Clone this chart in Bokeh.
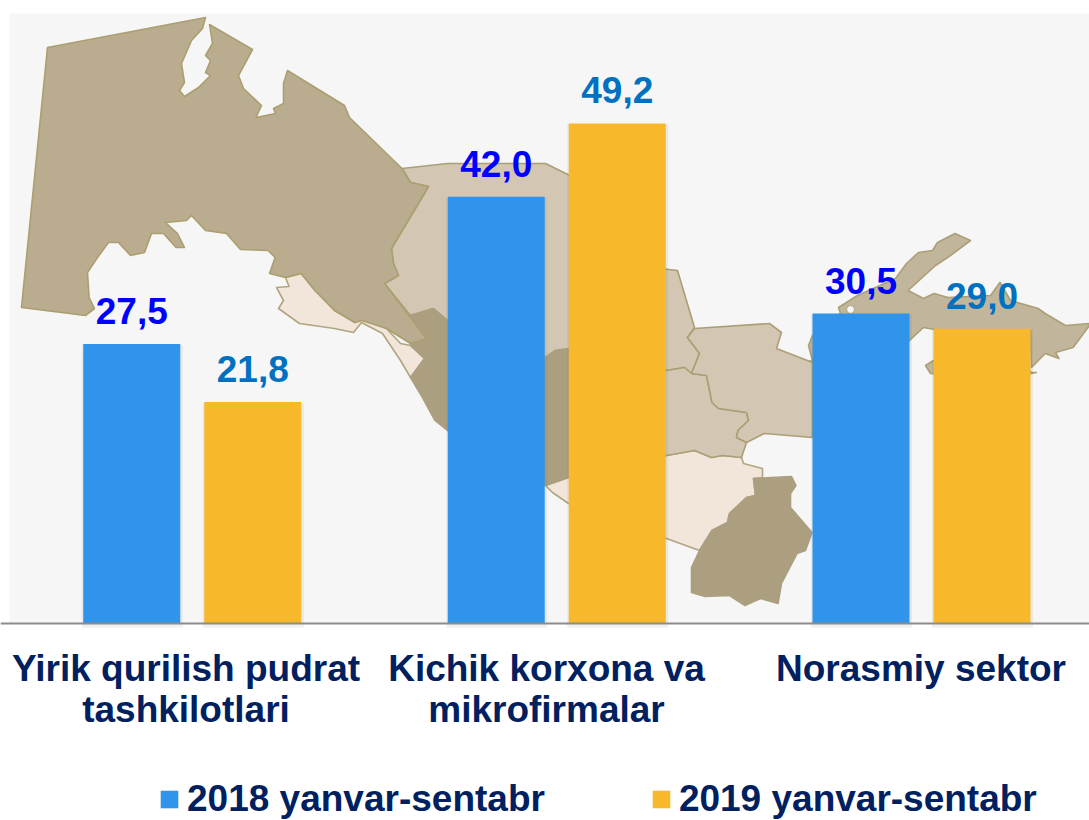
import numpy as np
from bokeh.plotting import figure
from bokeh.models import Range1d, LinearAxis, FixedTicker, Legend, LegendItem, ColumnDataSource
from bokeh.core.properties import value
from bokeh.embed import file_html
from bokeh.resources import INLINE

categories = ["Yirik qurilish pudrat\ntashkilotlari", "Kichik korxona va\nmikrofirmalar", "Norasmiy sektor"]
series_names = ["2018 yanvar-sentabr", "2019 yanvar-sentabr"]
values_2018 = [27.5, 42.0, 30.5]
values_2019 = [21.8, 49.2, 29.0]

# layout (page pixels)
group_centers = np.array([191.75, 556.25, 921.0])
label_centers = [185.5, 546.0, 920.5]
dodge = 60.5
bar_w = 97.0
PX_PER_UNIT = 10.163
BASE_PY = 623.0
FONT = value("Liberation Sans")

# background map (decoration, page pixels)
map_land = [
    [(47,47),(205,17),(202,28),(191,40),(181,63),(184,82),(179,90),(184,96),(198,87),(210,75),(205,72),(210,60),(205,55),(212,43),(209,24),
     (252,49),(238,75),(243,88),(261,105),(255.5,117),(275,113),(273,108),(283,103),(283,83),(287,70),(344,105),(349,117),(401.5,168),(410,182),(428,186),
     (391,248),(393,263),(398,275),(384,283),(426,338),(410,343),(386,328),(361.5,320),(354.5,322),(334,310),(314.5,290),(300.7,273),(285,277),(269,273),
     (274.6,257),(267.6,250),(240,249),(226,233),(205,230),(191,215),(186,220),(165,222),(177,233),(184,247),(175.5,247),(163,233),(151,233),(144,252),
     (130,255),(118,242),(108,242),(97,257),(87,272),(88.6,297),(94,308),(85,315),(21,307)],
]
map_pale = [
    [(285,277),(300.7,273),(314.5,290),(334,310),(354.5,322),(361.5,317),(386,328),(400,343),(410,345),(424,358),(410,377),(400,360),(382,333),(361,322),(353,332),(334,328),(299,323),(278,308),(283,300),(276,287),(288.5,286)],
    [(545,485),(568,477),(666,455),(694,450),(711,457),(722,455),(741,457),(743,463),(762,468),(762,477),(753,478),(755,495),(746,497),(729,513),(727,522),(711.5,530),(699,550),(666,538),(568,503),(552,492)],
    [(788,365),(812,360),(812,386),(784,390)],
]
map_mid = [
    [(401.5,168),(447,163),(545,163),(610,195),(660,268),(677,270),(694,327),(687,337),(699,353),(691,373),(684,367),(666,370),(568,348),(555,350),(545,357),(447,320),(433,308),(410,315),(384,283),(398,275),(393,263),(391,248),(428,186),(410,182)],
    [(666,370),(684,367),(691,373),(706,375),(711.5,402),(718,408),(746,412),(748,420),(737.5,430),(736,437),(746,442),(741,457),(722,455),(711,457),(694,450),(666,455),(600,470),(600,360)],
    [(694,328),(769,323),(781,332),(776,348),(812,362),(812,437),(763.6,433),(750,440),(746,442),(736,437),(737.5,430),(748,420),(746,412),(718,408),(711.5,402),(706,375),(691,373),(699,353),(687,337)],
]
map_dark = [
    [(410,315),(433,308),(447,320),(545,357),(555,350),(568,348),(600,360),(600,470),(568,477),(545,485),(447,430),(434.5,420),(422,397),(410,377),(424,358),(410,345),(410,343),(426,338)],
    [(753,478),(791,476),(795.5,485),(790,493),(790,507),(811.5,532),(805,550),(796.6,553),(781,583),(777.5,603),(760,598),(744.5,605),(729,595),(704.6,596),(691,592),(691,567),(699,550),(711.5,530),(727,522),(729,513),(746,497),(755,495)],
]
map_east = [
    [(970,240),(954.5,233),(937,242),(932,250),(918,252),(906,263),(895,278),(857,295),(838,307),(840,313),(812,335),(808,345),(812,360),(909,340),(923,327),(940,330),(1030,330),(1031,367),(1044.7,353),(1058.5,358),(1055,352),(1072.6,347),(1089,325),(1089,323),(1065,325),(1044.6,313),(1037.7,308),(1010,300),(999.5,282),(990,295),(947.5,297),(933.6,293),(923,298),(907.6,290),(935,265),(950,255)],
    [(933,360),(925,365),(930,373),(950,375)],
    [(1020,360),(1031,372),(1036,372),(1020,375)],
]

y_start = (BASE_PY - 820) / PX_PER_UNIT
y_end = BASE_PY / PX_PER_UNIT

p = figure(width=1089, height=820, output_backend="svg", toolbar_location=None,
           x_range=Range1d(0, 1089), y_range=Range1d(y_start, y_end),
           x_axis_type=None, y_axis_type=None, min_border=0,
           background_fill_color="white", border_fill_color="white",
           outline_line_color=None)
p.grid.visible = False
p.extra_y_ranges = {"px": Range1d(820, 0)}

p.quad(left=[9], right=[1089], bottom=[623], top=[13], y_range_name="px",
       fill_color="#f6f6f7", line_color=None)


def draw(polys, fill, line):
    p.patches([[q[0] for q in s] for s in polys], [[q[1] for q in s] for s in polys],
              y_range_name="px", fill_color=fill, line_color=line, line_width=1.6, line_join="round")


draw(map_pale, "#f2e5d9", "#b0a581")
draw(map_mid, "#d3c6b2", "#ab9f76")
draw(map_east, "#c1b59b", "#ab9f76")
draw(map_dark, "#ac9f80", "#ac9f80")
draw(map_land, "#b9ac8f", "#ab9f6f")
p.scatter([850], [309], size=8, y_range_name="px", fill_color="#f6f6f7", line_color="#ab9f76")

x18 = group_centers - dodge
x19 = group_centers + dodge

# soft shadows of the bars
for xs, vals in ((x18, values_2018), (x19, values_2019)):
    p.vbar(x=xs + 0.5, width=bar_w + 4, top=np.array(vals) - 0.1, bottom=-0.4, fill_color="#555555", fill_alpha=0.09, line_color=None)

src18 = ColumnDataSource(dict(x=x18, top=values_2018, lab=[f"{v:.1f}".replace(".", ",") for v in values_2018]))
src19 = ColumnDataSource(dict(x=x19, top=values_2019, lab=[f"{v:.1f}".replace(".", ",") for v in values_2019]))
r18 = p.vbar(x="x", width=bar_w, top="top", bottom=0, source=src18, fill_color="#3094eb", line_color=None)
r19 = p.vbar(x="x", width=bar_w, top="top", bottom=0, source=src19, fill_color="#f7b92b", line_color=None)

for src, col in ((src18, "#0000ff"), (src19, "#0070c0")):
    p.text(x="x", y="top", text="lab", source=src, text_color=col, text_font=FONT, text_font_style="bold",
           text_font_size="37px", text_align="center", text_baseline="alphabetic", y_offset=-33)

ax = LinearAxis(fixed_location=0, ticker=FixedTicker(ticks=label_centers),
                major_label_overrides={t: c for t, c in zip(label_centers, categories)})
ax.axis_line_color = "#8c8c8c"
ax.axis_line_width = 2
ax.major_tick_line_color = None
ax.minor_tick_line_color = None
ax.major_label_text_font = "Liberation Sans"
ax.major_label_text_font_style = "bold"
ax.major_label_text_font_size = "37px"
ax.major_label_text_line_height = 1.02
ax.major_label_text_color = "#002060"
ax.major_label_standoff = 18
p.add_layout(ax, "below")

legend = Legend(items=[LegendItem(label=series_names[0], renderers=[r18]),
                       LegendItem(label=series_names[1], renderers=[r19])],
                location=(158, 0), orientation="horizontal", padding=0, margin=0, spacing=105,
                glyph_width=22, glyph_height=22, label_standoff=7,
                label_text_font="Liberation Sans", label_text_font_style="bold",
                label_text_font_size="37px", label_text_color="#002060",
                background_fill_alpha=0, border_line_color=None)
p.add_layout(legend, "center")

open("out.html", "w").write(file_html(p, INLINE))
